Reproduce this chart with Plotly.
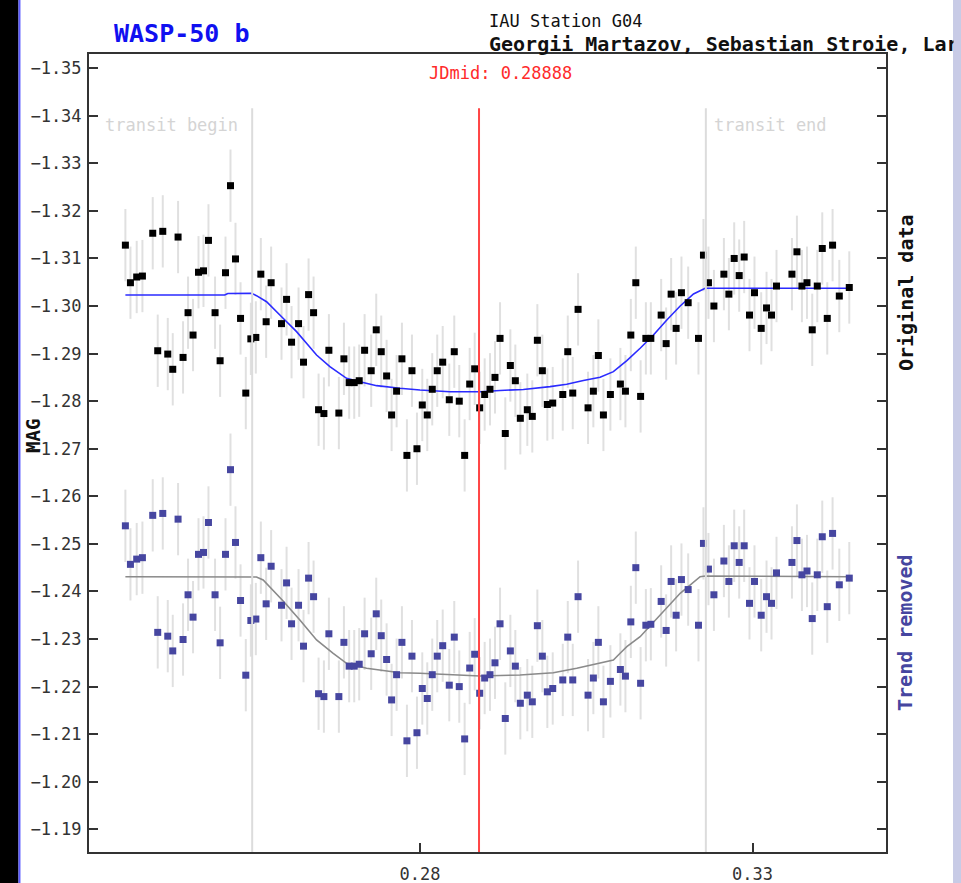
import plotly.graph_objects as go

# Observation times (fraction of JD) and magnitudes
t_obs = [
    0.23572, 0.23648, 0.23742, 0.23828, 0.23983, 0.24058, 0.24134, 0.24209, 0.24284, 0.24364,
    0.24439, 0.24514, 0.24589, 0.24671, 0.24746, 0.24821, 0.24920, 0.24996, 0.25077, 0.25152,
    0.25227, 0.25303, 0.25382, 0.25458, 0.25533, 0.25608, 0.25688, 0.25763, 0.25919, 0.25995,
    0.26070, 0.26175, 0.26250, 0.26326, 0.26401, 0.26476, 0.26556, 0.26631, 0.26781, 0.26857,
    0.26936, 0.27012, 0.27087, 0.27168, 0.27267, 0.27343, 0.27418, 0.27499, 0.27574, 0.27649,
    0.27729, 0.27804, 0.27880, 0.27955, 0.28035, 0.28110, 0.28185, 0.28260, 0.28342, 0.28441,
    0.28516, 0.28591, 0.28672, 0.28748, 0.28823, 0.28898, 0.28973, 0.29053, 0.29128, 0.29204,
    0.29283, 0.29359, 0.29434, 0.29509, 0.29614, 0.29689, 0.29765, 0.29840, 0.29915, 0.29996,
    0.30147, 0.30222, 0.30297, 0.30377, 0.30527, 0.30607, 0.30682, 0.30758, 0.30863, 0.31013,
    0.31089, 0.31170, 0.31245, 0.31317, 0.31396, 0.31471, 0.31626, 0.31701, 0.31776, 0.31851,
    0.31931, 0.32032, 0.32187, 0.32262, 0.32337, 0.32419, 0.32569, 0.32644, 0.32724, 0.32799,
    0.32874, 0.32954, 0.33029, 0.33130, 0.33210, 0.33285, 0.33360, 0.33592, 0.33667, 0.33742,
    0.33818, 0.33897, 0.33973, 0.34048, 0.34123, 0.34203, 0.34304, 0.34454,
]

mag_original = [
    -1.3128, -1.3049, -1.3061, -1.3063, -1.3153, -1.2906, -1.3157, -1.2899, -1.2867, -1.3145,
    -1.2892, -1.2986, -1.2939, -1.3071, -1.3074, -1.3138, -1.2986, -1.2885, -1.3070, -1.3253,
    -1.3099, -1.2974, -1.2817, -1.2931, -1.2934, -1.3067, -1.2967, -1.3049, -1.2963, -1.3014,
    -1.2924, -1.2963, -1.2882, -1.3024, -1.2986, -1.2782, -1.2774, -1.2907, -1.2775, -1.2889,
    -1.2839, -1.2839, -1.2843, -1.2907, -1.2864, -1.2950, -1.2904, -1.2853, -1.2771, -1.2821,
    -1.2889, -1.2686, -1.2864, -1.2700, -1.2792, -1.2771, -1.2825, -1.2864, -1.2882, -1.2803,
    -1.2904, -1.2800, -1.2686, -1.2836, -1.2868, -1.2786, -1.2814, -1.2825, -1.2850, -1.2932,
    -1.2732, -1.2875, -1.2843, -1.2764, -1.2782, -1.2768, -1.2928, -1.2864, -1.2793, -1.2796,
    -1.2814, -1.2904, -1.2817, -1.2993, -1.2786, -1.2821, -1.2896, -1.2771, -1.2814, -1.2836,
    -1.2821, -1.2939, -1.3049, -1.2810, -1.2932, -1.2932, -1.2981, -1.2921, -1.3025, -1.2953,
    -1.3028, -1.3007, -1.2932, -1.3107, -1.3049, -1.3000, -1.3067, -1.3025, -1.3100, -1.3064,
    -1.3103, -1.2981, -1.3028, -1.2953, -1.2996, -1.2981, -1.3042, -1.3067, -1.3114, -1.3042,
    -1.3049, -1.2950, -1.3042, -1.3121, -1.2974, -1.3128, -1.3021, -1.3039,
]

mag_detrended = [
    -1.2538, -1.2457, -1.2468, -1.2471, -1.2560, -1.2314, -1.2564, -1.2306, -1.2275, -1.2552,
    -1.2299, -1.2393, -1.2346, -1.2478, -1.2482, -1.2545, -1.2393, -1.2292, -1.2478, -1.2656,
    -1.2503, -1.2381, -1.2224, -1.2339, -1.2342, -1.2471, -1.2374, -1.2453, -1.2371, -1.2418,
    -1.2332, -1.2371, -1.2285, -1.2428, -1.2389, -1.2185, -1.2179, -1.2311, -1.2179, -1.2293,
    -1.2243, -1.2243, -1.2247, -1.2311, -1.2269, -1.2353, -1.2307, -1.2257, -1.2172, -1.2225,
    -1.2293, -1.2086, -1.2264, -1.2103, -1.2196, -1.2175, -1.2225, -1.2264, -1.2286, -1.2203,
    -1.2304, -1.2200, -1.2090, -1.2239, -1.2268, -1.2186, -1.2218, -1.2225, -1.2250, -1.2332,
    -1.2133, -1.2275, -1.2243, -1.2165, -1.2182, -1.2168, -1.2328, -1.2264, -1.2189, -1.2196,
    -1.2214, -1.2304, -1.2214, -1.2389, -1.2182, -1.2218, -1.2293, -1.2168, -1.2211, -1.2236,
    -1.2222, -1.2336, -1.2450, -1.2207, -1.2329, -1.2331, -1.2379, -1.2318, -1.2421, -1.2350,
    -1.2425, -1.2404, -1.2329, -1.2501, -1.2447, -1.2393, -1.2464, -1.2421, -1.2496, -1.2461,
    -1.2496, -1.2375, -1.2421, -1.2350, -1.2389, -1.2375, -1.2439, -1.2461, -1.2507, -1.2435,
    -1.2443, -1.2343, -1.2435, -1.2515, -1.2368, -1.2522, -1.2414, -1.2428,
]

mag_error = 0.0076

# Transit model curves
t_model = [
    0.23572, 0.25066, 0.25111, 0.25468, 0.25543, 0.25694, 0.25943, 0.26145, 0.26295, 0.26446,
    0.26646, 0.26796, 0.26897, 0.27097, 0.27349, 0.27699, 0.28000, 0.28451, 0.28903, 0.29204,
    0.29554, 0.29956, 0.30207, 0.30457, 0.30708, 0.30908, 0.31110, 0.31310, 0.31510, 0.31711,
    0.31912, 0.32112, 0.32288, 0.34454,
]
model_original = [
    -1.30232, -1.30232, -1.30264, -1.30268, -1.30218, -1.30091, -1.29742, -1.29461, -1.29217, -1.28971,
    -1.28725, -1.28586, -1.28481, -1.28410, -1.28326, -1.28271, -1.28235, -1.28199, -1.28199, -1.28225,
    -1.28246, -1.28305, -1.28355, -1.28435, -1.28502, -1.28620, -1.28851, -1.29112, -1.29391, -1.29707,
    -1.30001, -1.30253, -1.30373, -1.30373,
]

t_model_d = [
    0.23572, 0.25066, 0.25468, 0.25543, 0.25643, 0.25943, 0.26195, 0.26446, 0.26696, 0.26897,
    0.27198, 0.27699, 0.28000, 0.28451, 0.28903, 0.29504, 0.30005, 0.30357, 0.30708, 0.30908,
    0.31009, 0.31110, 0.31310, 0.31611, 0.31912, 0.32212, 0.32288, 0.34454,
]
model_detrended = [
    -1.24310, -1.24310, -1.24310, -1.24304, -1.24241, -1.23800, -1.23400, -1.22980, -1.22700, -1.22490,
    -1.22385, -1.22292, -1.22280, -1.22244, -1.22223, -1.22244, -1.22292, -1.22385, -1.22490, -1.22559,
    -1.22700, -1.22839, -1.23049, -1.23505, -1.23962, -1.24310, -1.24325, -1.24310,
]

jd_mid = 0.28888
transit_begin = 0.25478
transit_end = 0.32298

MONO = "DejaVu Sans Mono"
ERR_COLOR = "#e0e0e0"
DETREND_COLOR = "#4646a0"

fig = go.Figure()

# error bars (under everything else)
for mags in (mag_original, mag_detrended):
    fig.add_trace(go.Scatter(
        x=t_obs, y=mags, mode="markers",
        marker=dict(size=7, opacity=0),
        error_y=dict(type="constant", value=mag_error, color=ERR_COLOR,
                     thickness=2, width=0),
        hoverinfo="skip", showlegend=False,
    ))

# model fits
fig.add_trace(go.Scatter(x=t_model, y=model_original, mode="lines",
                         line=dict(color="#2b2bff", width=1.6), showlegend=False))
fig.add_trace(go.Scatter(x=t_model_d, y=model_detrended, mode="lines",
                         line=dict(color="#8a8a8a", width=1.6), showlegend=False))

# measurements
fig.add_trace(go.Scatter(x=t_obs, y=mag_original, mode="markers",
                         marker=dict(symbol="square", size=7, color="#000000"),
                         showlegend=False))
fig.add_trace(go.Scatter(x=t_obs, y=mag_detrended, mode="markers",
                         marker=dict(symbol="square", size=7, color=DETREND_COLOR),
                         showlegend=False))

line_top = 0.932
shapes = [
    dict(type="line", xref="x", yref="paper", x0=transit_begin, x1=transit_begin,
         y0=0, y1=line_top, line=dict(color="#dcdcdc", width=2), layer="above"),
    dict(type="line", xref="x", yref="paper", x0=transit_end, x1=transit_end,
         y0=0, y1=line_top, line=dict(color="#dcdcdc", width=2), layer="above"),
    dict(type="line", xref="x", yref="paper", x0=jd_mid, x1=jd_mid,
         y0=0, y1=line_top, line=dict(color="#ff4545", width=2), layer="above"),
    # page frame strips
    dict(type="rect", xref="paper", yref="paper", x0=-0.12, x1=-0.0885, y0=-0.06, y1=1.1,
         fillcolor="#000000", line=dict(width=0), layer="above"),
    dict(type="rect", xref="paper", yref="paper", x0=-0.0885, x1=-0.0860, y0=-0.06, y1=1.1,
         fillcolor="#5a5aff", line=dict(width=0), layer="above"),
    dict(type="rect", xref="paper", yref="paper", x0=1.0841, x1=1.12, y0=-0.06, y1=1.1,
         fillcolor="#c8cbe6", line=dict(width=0), layer="above"),
]

annotations = [
    dict(text="<b>WASP-50 b</b>", xref="paper", yref="paper", x=0.029, y=1.0263,
         xanchor="left", yanchor="middle", showarrow=False,
         font=dict(family=MONO, size=25, color="#1010f0")),
    dict(text="IAU Station G04", xref="paper", yref="paper", x=0.4994, y=1.0414,
         xanchor="left", yanchor="middle", showarrow=False,
         font=dict(family=MONO, size=17, color="#111111")),
    dict(text="<b>Georgii Martazov, Sebastian Stroie, Lara</b>", xref="paper", yref="paper",
         x=0.4994, y=1.0125, xanchor="left", yanchor="middle", showarrow=False,
         font=dict(family=MONO, size=20, color="#111111")),
    dict(text=f"JDmid: {jd_mid:.5f}", xref="paper", yref="paper", x=0.4241, y=0.9756,
         xanchor="left", yanchor="middle", showarrow=False,
         font=dict(family=MONO, size=17, color="#ff2a2a")),
    dict(text="transit begin", xref="paper", yref="paper", x=0.189, y=0.911,
         xanchor="right", yanchor="middle", showarrow=False,
         font=dict(family=MONO, size=17, color="#d4d4d4")),
    dict(text="transit end", xref="paper", yref="paper", x=0.7817, y=0.911,
         xanchor="left", yanchor="middle", showarrow=False,
         font=dict(family=MONO, size=17, color="#d4d4d4")),
    dict(text="<b>Original data</b>", xref="paper", yref="paper", x=1.0251, y=0.7005,
         xanchor="center", yanchor="middle", textangle=-90, showarrow=False,
         font=dict(family=MONO, size=20, color="#111111")),
    dict(text="<b>Trend removed</b>", xref="paper", yref="paper", x=1.0238, y=0.2757,
         xanchor="center", yanchor="middle", textangle=-90, showarrow=False,
         font=dict(family=MONO, size=20, color=DETREND_COLOR)),
    dict(text="<b>MAG</b>", xref="paper", yref="paper", x=-0.0703, y=0.5213,
         xanchor="center", yanchor="middle", textangle=-90, showarrow=False,
         font=dict(family=MONO, size=19, color="#111111")),
    # right page strip covering overflow of the header text
    dict(text=" ", xref="paper", yref="paper", x=1.0841, y=0.5, xanchor="left",
         yanchor="middle", showarrow=False, width=30, height=960, borderpad=0,
         bgcolor="#c8cbe6", font=dict(size=4)),
]

axis_common = dict(
    showgrid=False, zeroline=False, showline=True, linecolor="#333333", linewidth=2,
    ticks="inside", ticklen=9, tickwidth=2, tickcolor="#333333", automargin=False,
    tickfont=dict(family=MONO, size=17, color="#333333"),
)

fig.update_layout(
    template="none",
    width=961, height=883,
    margin=dict(l=89, r=75, t=54, b=31, pad=0),
    paper_bgcolor="#ffffff", plot_bgcolor="#ffffff",
    showlegend=False,
    xaxis=dict(range=[0.23025, 0.35006], tickmode="linear", tick0=0.28, dtick=0.05,
               tickformat=".2f", mirror=True, ticklabelstandoff=6, **axis_common),
    yaxis=dict(range=[-1.18523, -1.35298], tickmode="linear", tick0=-1.35, dtick=0.01,
               tickformat=".2f", mirror="ticks", ticklabelstandoff=2, **axis_common),
    shapes=shapes, annotations=annotations,
)

fig.write_html("out.html")
